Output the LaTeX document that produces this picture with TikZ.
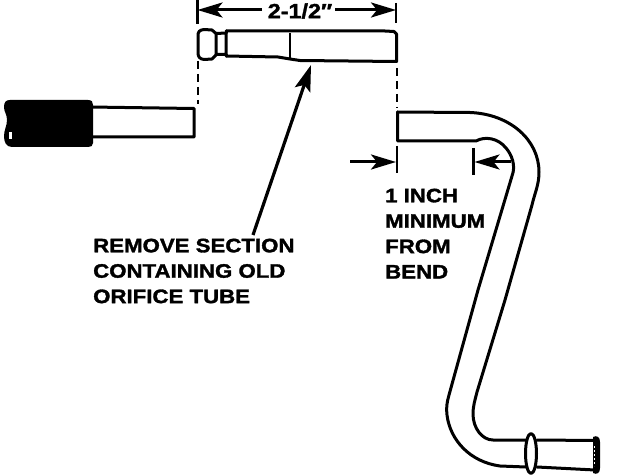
\documentclass[tikz,border=0pt]{standalone}
\usepackage{fontspec}
\setmainfont{Liberation Sans}[BoldFeatures={FakeStretch=1.14,FakeBold=1.6}]
\usetikzlibrary{arrows.meta}
\tikzset{
  x=1pt,y=-1pt,
  tube/.style={line width=3pt,line join=round,line cap=round},
  thinl/.style={line width=2.4pt,line join=round},
  dimline/.style={line width=3pt},
  ext/.style={line width=2.4pt},
  dashx/.style={line width=2.4pt,dash pattern=on 8pt off 5pt},
  head/.style={-{Stealth[length=25pt,width=15pt,inset=6pt]}},
  label/.style={font=\bfseries\fontsize{19.5}{25.4}\selectfont,align=left,anchor=north west,inner sep=0pt,text=black}
}
\begin{document}
\begin{tikzpicture}
\useasboundingbox (0,0) rectangle (624,476);
% named points
\coordinate (tl) at (197.5,0);
\coordinate (tlb) at (197.5,24);
\coordinate (tr) at (396,3);
\coordinate (trb) at (396,23);
\coordinate (dimL) at (197.5,10);
\coordinate (dimR) at (396,10);
\coordinate (dimLs) at (262,10);
\coordinate (dimRs) at (335,10);
\node[font=\bfseries\fontsize{20.5}{22}\selectfont,inner sep=0pt] (dimtext) at (300,11) {2-1/2″};
\draw[ext] (tl)--(tlb);
\draw[ext] (tr)--(trb);
\draw[dimline,head] (dimLs) -- (dimL);
\draw[dimline,head] (dimRs) -- (dimR);
% removed section
\draw[tube] (226,31) -- (385,31) -- (394,31.5) -- (396.5,34) -- (396.5,61.5) -- (300,60.5) -- (290,59) -- (278,57) -- (226,56);
\draw[thinl] (290,33)--(290,58.5);
\draw[tube] (216,33.5) -- (226,33) -- (226,54.5) -- (216,54.5) -- cycle;
\draw[tube] (216,33.5) -- (212,30) -- (204,29.5) .. controls (199,30) and (198,32) .. (198,36) -- (198,53) .. controls (198,57) and (200,59) .. (204,59.5) -- (212,59) -- (216,55);
\draw[tube] (226,31) -- (226,33);
\draw[tube] (226,54.5)--(226,56);
% dashes
\coordinate (dl1) at (198,61);
\coordinate (dl2) at (198,104);
\coordinate (dr1) at (397,68);
\coordinate (dr2) at (397,108);
\draw[dashx] (dl1)--(dl2);
\draw[dashx] (dr1)--(dr2);
% main arrow
\coordinate (pTail) at (253,235);
\coordinate (pTip) at (311,65);
\draw[line width=3.2pt,-{Stealth[length=26pt,width=16pt,inset=5pt]}] (pTail) -- (pTip);
% left stub
\draw[tube] (90,107) -- (194,108.5) -- (194,137) -- (90,137);
\fill[black] (10,100) -- (88,100) .. controls (92,100) and (93,102) .. (93,105) -- (93,143) .. controls (93,146) and (91,147) .. (88,147) -- (12,147) .. controls (6,147) and (4,142) .. (4,136) .. controls (4,130) and (7,126) .. (7,120) .. controls (7,114) and (4,112) .. (4,107) .. controls (4,102) and (6,100) .. (10,100) -- cycle;
\fill[white] (9,132) rectangle (11.5,139);
% right pipe
\draw[tube] (397.5,112) -- (470,112.5) .. controls (510,114) and (539,140) .. (539,172) .. controls (539,185) and (535,192) .. (532,205) -- (505,300) -- (477,392) .. controls (475,400) and (473,406) .. (473,414) .. controls (473,428) and (482,440) .. (493,440) -- (526,440);
\draw[tube] (397.5,112) -- (397.5,141) -- (476,141) .. controls (485,136) and (498,138) .. (506,148) .. controls (512,155) and (516,166) .. (512,176) -- (478,290) -- (449,395) .. controls (447,402) and (446,408) .. (447,415) .. controls (450,440) and (470,462) .. (500,466) -- (526,467);
% ferrule
\draw[tube] (531,453.5) ellipse [x radius=5.5,y radius=20];
\draw[tube] (537,440) -- (595,440.5);
\draw[tube] (537,467) -- (595,470);
\fill[black] (593,437) .. controls (597,435) and (600,437) .. (600,442) -- (600,468) .. controls (600,473) and (597,475) .. (593,473) -- cycle;
\draw[white,line width=0.8pt,dash pattern=on 2pt off 2pt] (594,446)--(594,466);
% 1 inch
\coordinate (t1a) at (397,146);
\coordinate (t1b) at (397,173);
\coordinate (t2a) at (473.5,148);
\coordinate (t2b) at (473.5,175);
\draw[ext] (t1a)--(t1b);
\draw[ext] (t2a)--(t2b);
\coordinate (arA) at (350,162);
\coordinate (arB) at (396,162);
\coordinate (arC) at (511,162);
\coordinate (arD) at (474.5,162);
\draw[dimline,head] (arA)--(arB);
\draw[dimline,head] (arC)--(arD);
% labels
\node[label] (lremove) at (93,238.5) {REMOVE SECTION\\CONTAINING OLD\\ORIFICE TUBE};
\node[label] (lmin) at (385,188.5) {1 INCH\\MINIMUM\\FROM\\BEND};
\end{tikzpicture}
\end{document}
